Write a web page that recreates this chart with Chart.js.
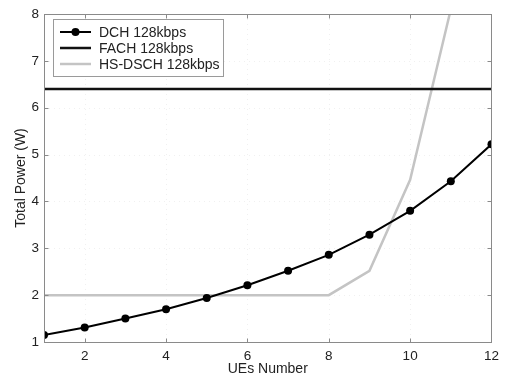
<!DOCTYPE html>
<html>
<head>
<meta charset="utf-8">
<script src="https://cdn.jsdelivr.net/npm/chart.js@4/dist/chart.umd.min.js"></script>
<style>
html,body{margin:0;padding:0;background:#fff;}
#wrap{width:505px;height:379px;position:relative;}
</style>
</head>
<body>
<div id="wrap"><canvas id="c" width="505" height="379"></canvas></div>
<script>
const ues = [1, 2, 3, 4, 5, 6, 7, 8, 9, 10, 11, 12];
const dch = [1.15, 1.31, 1.50, 1.70, 1.94, 2.21, 2.52, 2.86, 3.29, 3.80, 4.43, 5.22];
const fach = [6.4, 6.4, 6.4, 6.4, 6.4, 6.4, 6.4, 6.4, 6.4, 6.4, 6.4, 6.4];
const hsdsch = [2.0, 2.0, 2.0, 2.0, 2.0, 2.0, 2.0, 2.0, 2.52, 4.46, 8.1, 12.0];
const xTicks = [2, 4, 6, 8, 10, 12];
const yTicks = [1, 2, 3, 4, 5, 6, 7, 8];
const seriesNames = ['DCH 128kbps', 'FACH 128kbps', 'HS-DSCH 128kbps'];

const FONT = '"Liberation Sans", Arial, Helvetica, sans-serif';
const pts = arr => ues.map((u, i) => ({x: u, y: arr[i]}));

const framePlugin = {
  id: 'frame',
  beforeDatasetsDraw(chart) {
    const {ctx, chartArea: a, scales: {x, y}} = chart;
    ctx.save();
    ctx.strokeStyle = '#f0f0f0';
    ctx.lineWidth = 1;
    ctx.setLineDash([1, 4]);
    xTicks.forEach(t => {
      const px = Math.round(x.getPixelForValue(t)) + 0.5;
      ctx.beginPath(); ctx.moveTo(px, a.top); ctx.lineTo(px, a.bottom); ctx.stroke();
    });
    yTicks.forEach(t => {
      const py = Math.round(y.getPixelForValue(t)) + 0.5;
      ctx.beginPath(); ctx.moveTo(a.left, py); ctx.lineTo(a.right, py); ctx.stroke();
    });
    ctx.restore();
  },
  afterDatasetsDraw(chart) {
    const {ctx, chartArea: a, scales: {x, y}} = chart;
    ctx.save();
    ctx.setLineDash([]);
    ctx.strokeStyle = '#8a8a8a';
    ctx.lineWidth = 1;
    const L = Math.round(a.left) + 0.5, R = Math.round(a.right) + 0.5;
    const T = Math.round(a.top) + 0.5, B = Math.round(a.bottom) + 0.5;
    ctx.strokeRect(L, T, R - L, B - T);
    const tl = 4;
    xTicks.forEach(t => {
      const px = Math.round(x.getPixelForValue(t)) + 0.5;
      ctx.beginPath(); ctx.moveTo(px, B); ctx.lineTo(px, B - tl); ctx.stroke();
      ctx.beginPath(); ctx.moveTo(px, T); ctx.lineTo(px, T + tl); ctx.stroke();
    });
    yTicks.forEach(t => {
      const py = Math.round(y.getPixelForValue(t)) + 0.5;
      ctx.beginPath(); ctx.moveTo(L, py); ctx.lineTo(L + tl, py); ctx.stroke();
      ctx.beginPath(); ctx.moveTo(R, py); ctx.lineTo(R - tl, py); ctx.stroke();
    });

    // legend box
    const bx = 53.5, by = 19.5, bw = 170, bh = 57;
    ctx.fillStyle = '#ffffff';
    ctx.fillRect(bx, by, bw, bh);
    ctx.strokeStyle = '#9a9a9a';
    ctx.strokeRect(bx, by, bw, bh);
    const rows = [32, 48, 64];
    chart.data.datasets.forEach((ds, i) => {
      const ry = rows[i];
      ctx.strokeStyle = ds.borderColor;
      ctx.lineWidth = ds.borderWidth;
      ctx.beginPath(); ctx.moveTo(60, ry); ctx.lineTo(91, ry); ctx.stroke();
      if (ds.pointRadius > 0) {
        ctx.fillStyle = ds.pointBackgroundColor;
        ctx.beginPath(); ctx.arc(75.5, ry, ds.pointRadius, 0, Math.PI * 2); ctx.fill();
      }
      ctx.fillStyle = '#222';
      ctx.font = '14px ' + FONT;
      ctx.textBaseline = 'middle';
      ctx.textAlign = 'left';
      ctx.fillText(seriesNames[i], 99, ry + 1);
    });
    ctx.restore();
  }
};

new Chart(document.getElementById('c'), {
  type: 'line',
  data: {
    datasets: [
      {label: seriesNames[0], data: pts(dch), borderColor: '#000000', borderWidth: 2,
       pointRadius: 4, pointBackgroundColor: '#000000', pointBorderWidth: 0, tension: 0, order: 1},
      {label: seriesNames[1], data: pts(fach), borderColor: '#111111', borderWidth: 2.5,
       pointRadius: 0, tension: 0, order: 2},
      {label: seriesNames[2], data: pts(hsdsch), borderColor: '#c4c4c4', borderWidth: 2.5,
       pointRadius: 0, tension: 0, order: 3}
    ]
  },
  options: {
    responsive: false,
    animation: false,
    devicePixelRatio: 1,
    layout: {padding: {left: 0, right: 12, top: 14, bottom: 0}},
    plugins: {legend: {display: false}, tooltip: {enabled: false}},
    scales: {
      x: {
        type: 'linear', min: 1, max: 12,
        afterBuildTicks: s => { s.ticks = xTicks.map(v => ({value: v})); },
        afterFit: s => { s.height = 37; },
        grid: {display: false, drawTicks: false},
        border: {display: false},
        ticks: {color: '#222', font: {family: FONT, size: 13.5}, padding: 6, maxRotation: 0},
        title: {display: true, text: 'UEs Number', color: '#222',
                font: {family: FONT, size: 14}, padding: {top: 0, bottom: 1}}
      },
      y: {
        type: 'linear', min: 1, max: 8,
        afterBuildTicks: s => { s.ticks = yTicks.map(v => ({value: v})); },
        afterFit: s => { s.width = 44; },
        grid: {display: false, drawTicks: false},
        border: {display: false},
        ticks: {color: '#222', font: {family: FONT, size: 13.5}, padding: 5},
        title: {display: true, text: 'Total Power (W)', color: '#222',
                font: {family: FONT, size: 14}, padding: {top: 13, bottom: 0}}
      }
    }
  },
  plugins: [framePlugin]
});
</script>
</body>
</html>
